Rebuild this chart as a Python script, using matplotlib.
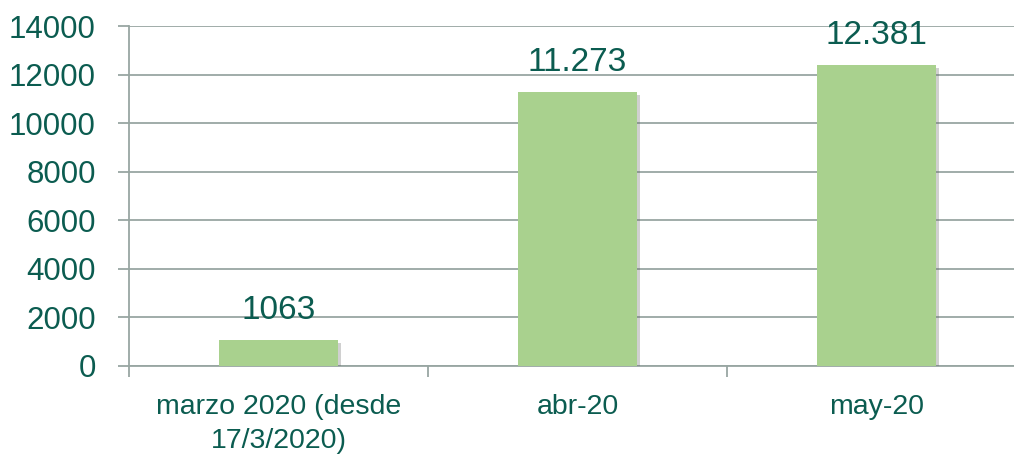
import matplotlib
matplotlib.use("Agg")
import matplotlib.pyplot as plt
import matplotlib.patheffects as pe

plt.rcParams['font.family'] = ['Liberation Sans', 'DejaVu Sans']

categories = ["marzo 2020 (desde\n17/3/2020)", "abr-20", "may-20"]
values = [1063, 11273, 12381]
value_labels = ["1063", "11.273", "12.381"]
yticks = [0, 2000, 4000, 6000, 8000, 10000, 12000, 14000]

TXT = "#0b5c50"
GRID = "#98a6a2"
BAR = "#a9d18e"

fig = plt.figure(figsize=(10.14, 4.62), dpi=100)
ax = fig.add_axes([0.1272, 0.2078, 0.8846, 0.7359])

x = list(range(len(values)))
bars = ax.bar(x, values, width=0.4, color=BAR, zorder=3)
for b in bars:
    b.set_path_effects([pe.SimplePatchShadow(offset=(2, -2), shadow_rgbFace="#666666", alpha=0.3),
                        pe.Normal()])

# value labels above bars
for xi, v, lab in zip(x, values, value_labels):
    ax.annotate(lab, (xi, v), xytext=(0, 21), textcoords="offset pixels",
                ha="center", va="baseline", fontsize=24, color=TXT)

ax.set_xlim(-0.5, 2.5)
ax.set_ylim(0, 14000)
ax.set_yticks(yticks)
ax.set_yticklabels([str(t) for t in yticks])
ax.yaxis.grid(True, color=GRID, linewidth=1.3, zorder=0)

ax.set_xticks(x)
ax.set_xticklabels(categories, fontsize=20.5, color=TXT, linespacing=1.4)
ax.set_xticks([-0.5, 0.5, 1.5, 2.5], minor=True)
ax.tick_params(axis="x", which="major", length=0, pad=20)
ax.tick_params(axis="x", which="minor", length=8, width=1.3, color=GRID)
ax.tick_params(axis="y", length=8, width=1.3, color=GRID, labelsize=22.5, labelcolor=TXT, pad=16)

for s in ["top", "right"]:
    ax.spines[s].set_visible(False)
for s in ["left", "bottom"]:
    ax.spines[s].set_color(GRID)
    ax.spines[s].set_linewidth(1.3)

fig.savefig("out.png", dpi=100)
